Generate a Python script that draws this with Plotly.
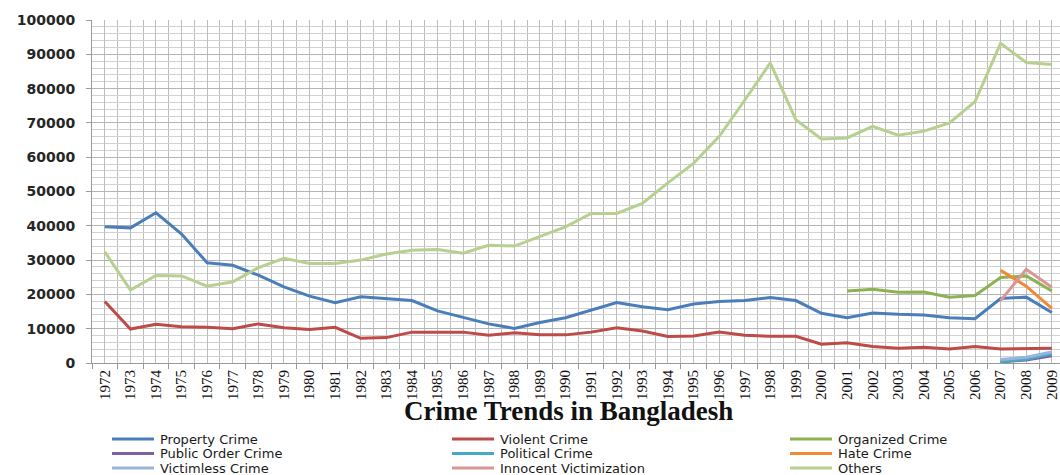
import plotly.graph_objects as go

# ---- data -------------------------------------------------------------
years = list(range(1972, 2010))

property_crime = [39700, 39400, 43800, 37600, 29200, 28500, 25600, 22200, 19500, 17600,
                  19300, 18700, 18200, 15200, 13300, 11400, 10100, 11800, 13200, 15300,
                  17600, 16400, 15500, 17200, 17900, 18200, 19100, 18200, 14500, 13200,
                  14600, 14200, 14000, 13200, 12900, 18800, 19200, 14700]

violent_crime = [17900, 9900, 11300, 10600, 10400, 10000, 11400, 10300, 9800, 10400,
                 7200, 7400, 9000, 9000, 9000, 8100, 8800, 8200, 8200, 9000,
                 10300, 9300, 7700, 7900, 9000, 8100, 7800, 7800, 5500, 5900,
                 4800, 4300, 4600, 4100, 4800, 4100, 4200, 4300]

organized_years = list(range(2001, 2010))
organized_crime = [21000, 21500, 20600, 20700, 19200, 19700, 24900, 25400, 21000]

recent_years = [2007, 2008, 2009]
public_order_crime = [300, 900, 2100]
political_crime = [400, 1100, 2700]
hate_crime = [27000, 22400, 15900]
victimless_crime = [1000, 1700, 3200]
innocent_victimization = [18200, 27300, 22100]

others = [32400, 21300, 25500, 25400, 22400, 23700, 27800, 30500, 29000, 29000,
          30000, 31800, 32900, 33100, 32000, 34300, 34100, 36800, 39700, 43600,
          43600, 46500, 52500, 58200, 66000, 76600, 87500, 70900, 65300, 65600,
          69000, 66400, 67600, 70000, 76200, 93200, 87600, 87000]

y_ticks = list(range(0, 100001, 10000))
year_labels = [str(y) for y in years]

series = [
    ("Property Crime", years, property_crime, "#4a7ebb"),
    ("Violent Crime", years, violent_crime, "#be4b48"),
    ("Organized Crime", organized_years, organized_crime, "#8db253"),
    ("Public Order Crime", recent_years, public_order_crime, "#7d60a0"),
    ("Political Crime", recent_years, political_crime, "#46aac5"),
    ("Hate Crime", recent_years, hate_crime, "#f08a35"),
    ("Victimless Crime", recent_years, victimless_crime, "#98b5dc"),
    ("Innocent Victimization", recent_years, innocent_victimization, "#d99694"),
    ("Others", years, others, "#b7d08f"),
]

# ---- layout geometry (pixels) ----------------------------------------
W, H = 1060, 475
L, R, T, B = 92, 0, 20, 112
PW, PH = W - L - R, H - T - B


def paper_x(px):
    return (px - L) / PW


def paper_y(py):
    return (T + PH - py) / PH


fig = go.Figure()
for name, xs, ys, color in series:
    fig.add_trace(go.Scatter(x=xs, y=ys, mode="lines", name=name,
                             line=dict(color=color, width=3),
                             showlegend=False))

# legend drawn as three columns of line keys and labels
col_px = [112, 452, 790]
row_px = [439, 453.5, 468]
shapes = []
annotations = []
for i, (name, _, _, color) in enumerate(series):
    cx = col_px[i % 3]
    ry = row_px[i // 3]
    shapes.append(dict(type="line", xref="paper", yref="paper",
                       x0=paper_x(cx), x1=paper_x(cx + 42),
                       y0=paper_y(ry), y1=paper_y(ry),
                       line=dict(color=color, width=3)))
    annotations.append(dict(text=name, xref="paper", yref="paper",
                            x=paper_x(cx + 46), y=paper_y(ry),
                            xanchor="left", yanchor="middle", showarrow=False,
                            font=dict(family="DejaVu Sans", size=13, color="#1a1a1a")))

annotations.append(dict(text="<b>Crime Trends in Bangladesh</b>", xref="paper", yref="paper",
                        x=paper_x(568), y=paper_y(411), xanchor="center", yanchor="middle",
                        showarrow=False,
                        font=dict(family="Liberation Serif", size=27, color="#111111")))

fig.update_layout(
    width=W, height=H,
    margin=dict(l=L, r=R, t=T, b=B, pad=0, autoexpand=False),
    paper_bgcolor="white", plot_bgcolor="white",
    shapes=shapes, annotations=annotations,
    showlegend=False,
)

fig.update_xaxes(
    range=[1971.5, 2009.32], automargin=False,
    tickmode="array", tickvals=years, ticktext=year_labels,
    tickangle=-90, ticks="", ticklabeloverflow="allow",
    tickfont=dict(family="Liberation Serif", size=15, color="#111111"),
    showgrid=True, gridcolor="#bdbdbd", gridwidth=1,
    minor=dict(tickmode="array", tickvals=[y - 0.5 for y in years] + [2009.5],
               ticks="outside", ticklen=5, tickcolor="#9a9a9a",
               showgrid=True, gridcolor="#bdbdbd", gridwidth=1),
    showline=True, linecolor="#9a9a9a", linewidth=1,
    zeroline=False,
)

fig.update_yaxes(
    range=[0, 100000], automargin=False,
    tickmode="array", tickvals=y_ticks, ticktext=[str(v) for v in y_ticks],
    ticks="outside", ticklen=5, tickcolor="#9a9a9a",
    ticklabelstandoff=8,
    tickfont=dict(family="DejaVu Sans", size=14, color="#262626", weight="bold"),
    showgrid=True, gridcolor="#b4b4b4", gridwidth=1,
    minor=dict(dtick=2000, tick0=0, showgrid=True, gridcolor="#d2d2d2", gridwidth=1),
    showline=True, linecolor="#9a9a9a", linewidth=1,
    zeroline=False,
)

fig.write_html("out.html")
